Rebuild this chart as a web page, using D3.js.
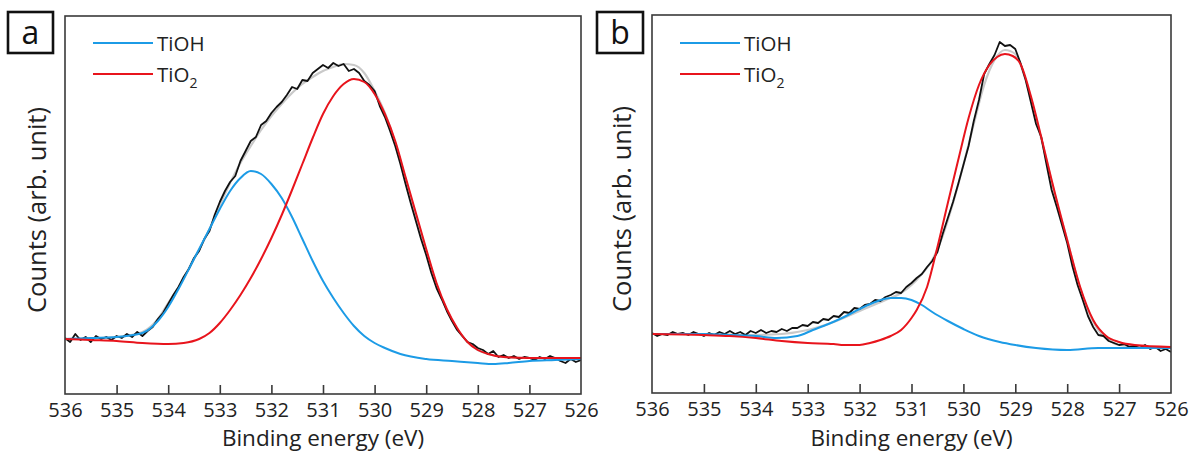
<!DOCTYPE html>
<html><head><meta charset="utf-8">
<script src="https://cdn.jsdelivr.net/npm/d3@7"></script>
<style>
html,body{margin:0;padding:0;background:#fff;}
svg{display:block;font-family:"Open Sans",sans-serif;}
</style></head>
<body>
<svg id="chart" width="1197" height="466"></svg>
<script>
// ---- Data (binding energy in eV, counts in arbitrary units) ----
const xTicks = [536,535,534,533,532,531,530,529,528,527,526];
const legendLabels = ["TiOH","TiO2"];
const panelLabels = ["a","b"];

const rawA = [[536.0,56],[535.9,52],[535.8,60],[535.7,54],[535.6,57],[535.5,52],[535.4,58],[535.3,55],[535.2,57],[535.1,54],
[535.0,58],[534.9,56],[534.8,60],[534.7,57],[534.6,62],[534.5,58],[534.4,63],[534.3,67],[534.2,75],[534.1,81],
[534.0,90],[533.9,99],[533.8,107],[533.7,117],[533.6,125],[533.5,136],[533.4,143],[533.3,155],[533.2,163],[533.1,179],
[533.0,192],[532.9,203],[532.8,212],[532.7,218],[532.6,233],[532.5,243],[532.4,253],[532.3,257],[532.2,269],[532.1,273],
[532.0,281],[531.9,287],[531.8,292],[531.7,299],[531.6,307],[531.5,305],[531.4,314],[531.3,313],[531.2,321],[531.1,325],
[531.0,329],[530.9,326],[530.8,331],[530.7,328],[530.6,330],[530.5,323],[530.4,325],[530.3,321],[530.2,313],[530.1,309],
[530.0,303],[529.9,288],[529.8,277],[529.7,263],[529.6,248],[529.5,230],[529.4,210],[529.3,191],[529.2,173],[529.1,155],
[529.0,139],[528.9,121],[528.8,106],[528.7,95],[528.6,83],[528.5,73],[528.4,64],[528.3,58],[528.2,52],[528.1,50],
[528.0,46],[527.9,44],[527.8,40],[527.7,43],[527.6,37],[527.5,39],[527.4,36],[527.3,38],[527.2,35],[527.1,37],
[527.0,36],[526.9,34],[526.8,37],[526.7,35],[526.6,38],[526.5,36],[526.4,33],[526.3,31],[526.2,35],[526.1,32],[526.0,34]];

const tiohA = [[536,55],[535.5,56],[535,57],[534.5,61],[534.2,73],[534,87],[533.8,105],[533.5,135],[533.2,165],[533,185],
[532.8,203],[532.6,216],[532.4,223],[532.2,220],[532,210],[531.8,196],[531.6,177],[531.4,155],[531.2,133],[531,113],
[530.8,96],[530.6,81],[530.4,68],[530.2,58],[530,51],[529.8,46],[529.5,40],[529,35],[528.5,33],[528,31],
[527.7,30],[527.4,31],[527,33],[526.5,34],[526,35]];

const tio2A = [[536,55],[535.5,54],[535,53],[534.5,51],[534,50],[533.7,51],[533.4,55],[533.2,61],[533,71],[532.8,84],
[532.6,99],[532.4,116],[532.2,135],[532,156],[531.8,179],[531.6,204],[531.4,230],[531.2,256],[531,280],[530.8,298],
[530.6,310],[530.4,315],[530.2,312],[530,300],[529.8,280],[529.6,253],[529.4,217],[529.2,181],[529,145],[528.8,111],
[528.6,85],[528.4,66],[528.2,52],[528,44],[527.8,40],[527.5,37],[527,36],[526,36]];

const envA = [[536,55],[535,57],[534.5,62],[534.2,75],[534,91],[533.8,107],[533.5,135],[533.2,165],[533,189],[532.8,211],
[532.6,231],[532.4,248],[532.2,264],[532,278],[531.8,290],[531.6,301],[531.4,310],[531.2,317],[531,323],[530.8,327],
[530.6,330],[530.4,329],[530.2,321],[530,303],[529.8,281],[529.6,251],[529.4,215],[529.2,179],[529,143],[528.8,109],
[528.6,84],[528.4,65],[528.2,52],[528,44],[527.8,40],[527.5,37],[527,36],[526,36]];

const rawB = [[536.0,60],[535.9,57],[535.8,59],[535.7,58],[535.6,61],[535.5,59],[535.4,60],[535.3,58],[535.2,61],[535.1,59],
[535.0,57],[534.9,60],[534.8,58],[534.7,61],[534.6,59],[534.5,62],[534.4,59],[534.3,61],[534.2,58],[534.1,62],
[534.0,60],[533.9,63],[533.8,60],[533.7,62],[533.6,61],[533.5,64],[533.4,62],[533.3,65],[533.2,65],[533.1,68],
[533.0,67],[532.9,71],[532.8,70],[532.7,74],[532.6,73],[532.5,77],[532.4,76],[532.3,81],[532.2,80],[532.1,85],
[532.0,84],[531.9,88],[531.8,89],[531.7,93],[531.6,92],[531.5,96],[531.4,98],[531.3,101],[531.2,100],[531.1,106],
[531.0,110],[530.9,115],[530.8,119],[530.7,126],[530.6,132],[530.5,141],[530.4,159],[530.3,175],[530.2,191],[530.1,209],
[530.0,228],[529.9,247],[529.8,272],[529.7,293],[529.6,319],[529.5,329],[529.4,338],[529.3,351],[529.2,347],[529.1,348],
[529.0,344],[528.9,330],[528.8,313],[528.7,291],[528.6,269],[528.5,256],[528.4,229],[528.3,203],[528.2,186],[528.1,168],
[528.0,150],[527.9,127],[527.8,108],[527.7,93],[527.6,77],[527.5,66],[527.4,58],[527.3,57],[527.2,52],[527.1,50],
[527.0,48],[526.9,49],[526.8,46],[526.7,47],[526.6,45],[526.5,48],[526.4,44],[526.3,46],[526.2,42],[526.1,44],[526.0,41]];

const tiohB = [[536,59],[535,59],[534.5,58],[534,57],[533.6,55],[533.2,57],[532.9,63],[532.6,69],[532.3,76],[532,84],
[531.7,91],[531.4,95],[531.2,95],[531,93],[530.8,88],[530.6,81],[530.3,72],[530,64],[529.7,57],[529.3,51],
[529,48],[528.6,45],[528,43],[527.4,45],[527,45],[526,45]];

const tio2B = [[536,59],[535,58],[534.5,57],[534,55],[533.5,52],[533,50],[532.5,49],[532.3,48],[532,48],[531.8,50],
[531.6,53],[531.4,57],[531.2,63],[531,75],[530.9,83],[530.7,106],[530.5,146],[530.3,190],[530.1,233],[529.9,275],
[529.7,308],[529.5,328],[529.35,336],[529.2,339],[529.05,337],[528.9,329],[528.7,297],[528.5,256],[528.3,213],[528,153],
[527.75,106],[527.5,73],[527.25,57],[527,51],[526.7,48],[526,46]];

const envB = [[536,59],[535,59],[534,58],[533.5,59],[533,63],[532.5,71],[532,82],[531.5,93],[531.2,100],[531,108],
[530.8,119],[530.6,133],[530.4,157],[530.2,190],[530,228],[529.8,269],[529.6,308],[529.4,333],[529.2,343],[529,339],
[528.8,313],[528.6,275],[528.4,233],[528.2,190],[528,153],[527.8,113],[527.6,83],[527.4,63],[527.2,53],[527,48],
[526.5,46],[526,45]];

// ---- Drawing ----
const svg = d3.select("#chart");
const colors = {raw:"#111111", env:"#c9c9c9", tioh:"#1c9be6", tio2:"#e8141c", frame:"#3a3a3a"};

const panels = [
  {label:panelLabels[0], box:[8,12,45,41], left:65, right:581, top:16, bottom:394,
   raw:rawA, tioh:tiohA, tio2:tio2A, env:envA, legendX:93, ytitleX:46},
  {label:panelLabels[1], box:[597,12,46,41], left:652, right:1171, top:15, bottom:393,
   raw:rawB, tioh:tiohB, tio2:tio2B, env:envB, legendX:680, ytitleX:631}
];

panels.forEach((p,i) => {
  const x = d3.scaleLinear().domain([536,526]).range([p.left,p.right]);
  const y = d3.scaleLinear().domain([0,377]).range([p.bottom,p.bottom-377]);
  const g = svg.append("g");

  const clipId = "clip"+i;
  svg.append("clipPath").attr("id",clipId).append("rect")
    .attr("x",p.left).attr("y",p.top).attr("width",p.right-p.left).attr("height",p.bottom-p.top);

  const smooth = d3.line().x(d=>x(d[0])).y(d=>y(d[1])).curve(d3.curveMonotoneX);
  const linear = d3.line().x(d=>x(d[0])).y(d=>y(d[1]));

  const lines = g.append("g").attr("clip-path",`url(#${clipId})`);
  lines.append("path").attr("d",smooth(p.env)).attr("fill","none").attr("stroke",colors.env).attr("stroke-width",2.2);
  lines.append("path").attr("d",linear(p.raw)).attr("fill","none").attr("stroke",colors.raw).attr("stroke-width",1.8).attr("stroke-linejoin","round");
  lines.append("path").attr("d",smooth(p.tioh)).attr("fill","none").attr("stroke",colors.tioh).attr("stroke-width",2);
  lines.append("path").attr("d",smooth(p.tio2)).attr("fill","none").attr("stroke",colors.tio2).attr("stroke-width",2);

  // frame
  g.append("rect").attr("x",p.left).attr("y",p.top).attr("width",p.right-p.left).attr("height",p.bottom-p.top)
    .attr("fill","none").attr("stroke",colors.frame).attr("stroke-width",1.6);

  // x axis with inward ticks
  const axis = d3.axisBottom(x).tickValues(xTicks).tickSize(-9).tickPadding(17).tickFormat(d3.format("d"));
  const ax = g.append("g").attr("transform",`translate(0,${p.bottom})`).call(axis);
  ax.select(".domain").remove();
  ax.selectAll(".tick line").attr("stroke",colors.frame).attr("stroke-width",1.6)
    .filter(d => d===536 || d===526).remove();
  ax.selectAll(".tick text").attr("font-size",20).attr("font-family","Open Sans").attr("fill","#222").attr("dy","0.32em");

  // axis titles
  g.append("text").attr("x",(p.left+p.right)/2).attr("y",446).attr("text-anchor","middle")
    .attr("font-size",22.5).attr("fill","#222").text("Binding energy (eV)");
  g.append("text").attr("transform",`translate(${p.ytitleX},${(p.top+p.bottom)/2+5}) rotate(-90)`)
    .attr("text-anchor","middle").attr("font-size",25.5).attr("fill","#222").text("Counts (arb. unit)");

  // panel label box
  g.append("rect").attr("x",p.box[0]).attr("y",p.box[1]).attr("width",p.box[2]).attr("height",p.box[3])
    .attr("fill","#fff").attr("stroke","#111").attr("stroke-width",2.6);
  g.append("text").attr("x",p.box[0]+p.box[2]/2).attr("y",p.box[1]+p.box[3]/2+11).attr("text-anchor","middle")
    .attr("font-size",32).attr("fill","#111").text(p.label);

  // legend
  const ly = [43,74];
  const lc = [colors.tioh, colors.tio2];
  legendLabels.forEach((lab,j) => {
    g.append("line").attr("x1",p.legendX).attr("x2",p.legendX+60).attr("y1",ly[j]).attr("y2",ly[j])
      .attr("stroke",lc[j]).attr("stroke-width",2);
    const t = g.append("text").attr("x",p.legendX+64).attr("y",ly[j]+7.5).attr("font-size",20.5).attr("fill","#222");
    if (lab === "TiO2") {
      t.append("tspan").text("TiO");
      t.append("tspan").attr("font-size",14).attr("dy",6).text("2");
    } else {
      t.text(lab);
    }
  });
});
</script>
</body></html>
